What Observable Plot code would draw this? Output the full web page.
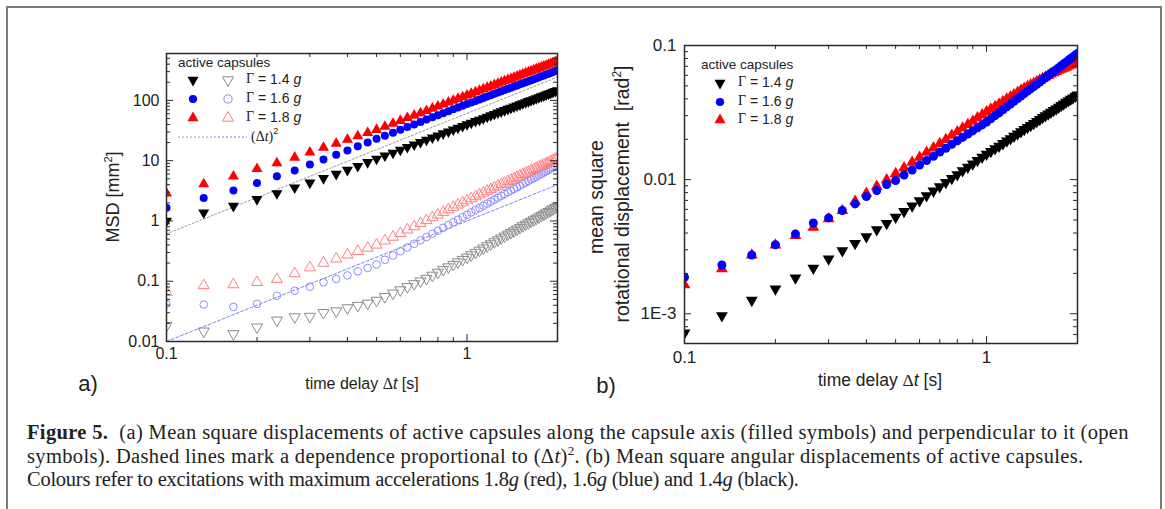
<!DOCTYPE html>
<html><head><meta charset="utf-8">
<script src="https://cdn.jsdelivr.net/npm/d3@7"></script>
<script src="https://cdn.jsdelivr.net/npm/@observablehq/plot@0.6"></script>
<style>
body{margin:0;background:#fff;}
#fig{position:relative;width:1165px;height:509px;overflow:hidden;font-family:"Liberation Sans",Arial,sans-serif;color:#222;}
#border{position:absolute;left:6px;top:6px;width:1152px;height:530px;border:2px solid #7c7c7c;}
.abs{position:absolute;white-space:nowrap;}
.rot{transform:translate(-50%,-50%) rotate(-90deg);}
.ctr{transform:translate(-50%,-50%);}
sup{line-height:0;}
#caption{position:absolute;left:27px;top:421px;font-family:"Liberation Serif","Times New Roman",serif;font-size:20.5px;letter-spacing:0.35px;line-height:23.5px;color:#222;white-space:nowrap;}
#caption i{font-style:italic;}
</style>
</head><body>
<div id="fig">
  <div id="border"></div>
  <div id="pa" class="abs" style="left:0;top:0"></div>
  <div id="pb" class="abs" style="left:580px;top:0"></div>
  <svg id="leg" class="abs" style="left:0;top:0" width="1165" height="509"></svg>
  <div class="abs rot" style="left:113px;top:197px;font-size:18px">MSD [mm<sup style="font-size:11px">2</sup>]</div>
  <div class="abs ctr" style="left:362px;top:384px;font-size:16px">time delay <span style="font-family:'Liberation Serif',serif">Δ</span><i>t</i> [s]</div>
  <div class="abs ctr" style="left:88px;top:384px;font-size:22px">a)</div>
  <div class="abs rot" style="left:596px;top:197px;font-size:19.5px">mean square</div>
  <div class="abs rot" style="left:622px;top:194px;font-size:19.5px">rotational displacement &nbsp;[rad<sup style="font-size:12px">2</sup>]</div>
  <div class="abs ctr" style="left:880px;top:380px;font-size:17.5px">time delay <span style="font-family:'Liberation Serif',serif">Δ</span><i>t</i> [s]</div>
  <div class="abs ctr" style="left:606px;top:386px;font-size:22px">b)</div>
  <div id="caption"><b>Figure 5.</b>&nbsp; (a) Mean square displacements of active capsules along the capsule axis (filled symbols) and perpendicular to it (open<br>symbols). Dashed lines mark a dependence proportional to (Δ<i>t</i>)<sup style="font-size:13px">2</sup>. (b) Mean square angular displacements of active capsules.<br><span style="letter-spacing:-0.25px">Colours refer to excitations with maximum accelerations 1.8<i>g</i> (red), 1.6<i>g</i> (blue) and 1.4<i>g</i> (black).</span></div>
</div>
<script>
// time delays (s)
const dt = [0.1,0.133,0.167,0.2,0.233,0.267,0.3,0.333,0.367,0.4,0.433,0.467,0.5,0.533,0.567,0.6,0.633,0.667,0.7,0.733,0.767,0.8,0.833,0.867,0.9,0.933,0.967,1.0,1.033,1.067,1.1,1.133,1.167,1.2,1.233,1.267,1.3,1.333,1.367,1.4,1.433,1.467,1.5,1.533,1.567,1.6,1.633,1.667,1.7,1.733,1.767,1.8,1.833,1.867,1.9,1.933,1.967,2.0];

// panel (a): MSD along axis (filled) [mm^2]
const msdAlong14 = [1.0,1.37,1.77,2.29,2.87,3.56,4.3,5.1,6.0,7.0,8.1,9.4,10.7,12.1,13.5,15.1,16.8,18.5,20.2,22.1,24.1,26.1,28.2,30.4,32.6,35.0,37.3,39.9,42.4,45.1,47.6,50.4,53.3,56.2,59.2,62.4,65.3,68.5,71.9,75.0,78.3,81.8,85.5,89.3,92.9,96.6,100.2,104.2,108.0,112.2,116.1,120.3,124.5,128.9,133.6,137.7,142.6,146.9];
const msdAlong16 = [1.65,2.4,3.2,4.25,5.5,6.9,8.6,10.5,12.6,14.8,17.3,20.0,23.0,26.0,29.2,32.6,36.3,40.0,43.9,48.0,52.4,56.7,61.4,66.2,71.1,76.2,81.5,87.1,92.5,98.2,103.8,109.6,116.1,122.2,128.5,135.5,141.9,148.9,156.0,162.9,169.8,177.4,184.9,193.2,200.9,208.4,216.8,225.4,233.3,242.7,250.6,259.4,268.5,278.0,287.7,296.5,306.9,316.2];
const msdAlong18 = [2.88,4.1,5.5,7.3,9.1,11.3,13.7,16.5,19.3,22.3,25.5,29.0,32.6,36.8,41.3,46.0,51.2,56.3,61.7,67.3,73.5,79.6,86.1,92.7,99.5,106.7,113.8,121.6,129.1,137.4,145.2,153.8,162.6,171.4,180.3,190.1,199.1,208.9,219.3,228.6,238.8,249.5,260.6,272.3,283.1,294.4,305.5,317.7,328.9,342.0,354.0,366.4,379.3,392.6,407.4,419.8,434.5,447.7];
// panel (a): MSD perpendicular (open) [mm^2]
const msdPerp14 = [0.0183,0.0148,0.0134,0.0173,0.0225,0.0255,0.026,0.030,0.032,0.036,0.0395,0.043,0.048,0.0553,0.0631,0.0716,0.0809,0.0904,0.1005,0.111,0.125,0.140,0.156,0.172,0.189,0.208,0.228,0.249,0.273,0.299,0.325,0.353,0.385,0.415,0.449,0.484,0.520,0.558,0.600,0.640,0.682,0.728,0.776,0.828,0.877,0.929,0.984,1.04,1.10,1.16,1.23,1.29,1.36,1.43,1.51,1.58,1.66,1.74];
const msdPerp16 = [0.042,0.041,0.0375,0.042,0.0575,0.0696,0.081,0.096,0.109,0.125,0.146,0.166,0.19,0.227,0.267,0.313,0.364,0.419,0.478,0.542,0.615,0.689,0.771,0.859,0.951,1.05,1.16,1.27,1.39,1.52,1.64,1.79,1.94,2.09,2.25,2.43,2.61,2.80,3.00,3.19,3.40,3.62,3.85,4.11,4.35,4.60,4.88,5.15,5.42,5.74,6.04,6.35,6.68,7.03,7.38,7.73,8.13,8.49];
const msdPerp18 = [0.066,0.085,0.088,0.096,0.108,0.134,0.168,0.201,0.236,0.274,0.314,0.356,0.40,0.469,0.542,0.625,0.714,0.809,0.912,1.02,1.14,1.26,1.40,1.54,1.69,1.85,2.01,2.18,2.35,2.54,2.72,2.92,3.13,3.33,3.56,3.79,4.03,4.27,4.53,4.78,5.04,5.32,5.61,5.92,6.21,6.52,6.84,7.18,7.50,7.87,8.22,8.57,8.95,9.33,9.75,10.1,10.6,11.0];
// (dt)^2 guide lines
const guideX = [0.1, 2];
const guideAlong = [0.61, 244];
const guidePerp = [0.01, 4];

// panel (b): mean square rotational displacement [rad^2]
const rot14 = [0.00072,0.000966,0.00126,0.00153,0.00185,0.00219,0.00256,0.00295,0.00335,0.00376,0.00424,0.00472,0.00524,0.00579,0.00637,0.00697,0.00759,0.00822,0.00885,0.00953,0.01023,0.01091,0.01164,0.01239,0.01312,0.0139,0.01469,0.01549,0.01626,0.01702,0.01778,0.01858,0.01941,0.02023,0.02109,0.02193,0.0228,0.02366,0.02455,0.02541,0.02624,0.02716,0.02812,0.02904,0.02999,0.0309,0.03184,0.03281,0.03373,0.03475,0.03573,0.03673,0.03776,0.03873,0.03981,0.04074,0.04188,0.04285];
const rot16 = [0.00187,0.00231,0.00274,0.00327,0.00394,0.00475,0.00518,0.00588,0.00659,0.00747,0.00828,0.0092,0.00985,0.01082,0.0118,0.01283,0.01389,0.01495,0.01604,0.01714,0.01833,0.01946,0.02065,0.02188,0.02307,0.02432,0.02559,0.02687,0.02838,0.03,0.03155,0.03319,0.03491,0.03656,0.03837,0.04018,0.04198,0.04385,0.04571,0.04753,0.04943,0.0514,0.05346,0.05559,0.05768,0.0597,0.0618,0.06397,0.06607,0.06839,0.07063,0.07295,0.07516,0.07762,0.07998,0.08222,0.08492,0.0873];
const rot18 = [0.00164,0.00216,0.00274,0.00325,0.00383,0.0044,0.0051,0.00588,0.0069,0.0079,0.0089,0.00996,0.0111,0.01225,0.01343,0.01466,0.01596,0.01722,0.01854,0.01991,0.02138,0.02275,0.02427,0.02576,0.02723,0.02884,0.03041,0.03206,0.03357,0.03508,0.03656,0.03819,0.03981,0.0414,0.04295,0.04467,0.04634,0.04797,0.04943,0.05082,0.05224,0.0537,0.05521,0.05675,0.05821,0.0597,0.06124,0.06266,0.06383,0.06516,0.06637,0.06761,0.06887,0.07015,0.07145,0.07261,0.07396,0.07516];

// ticks
const xMajor = [0.1, 1];
const xMajorLabels = ["0.1", "1"];
const yMajorA = [0.01, 0.1, 1, 10, 100];
const yMajorALabels = ["0.01", "0.1", "1", "10", "100"];
const yMajorB = [0.001, 0.01, 0.1];
const yMajorBLabels = ["1E-3", "0.01", "0.1"];

function minorLog(lo, hi) {
  const out = [];
  for (let e = Math.floor(Math.log10(lo)); e <= Math.ceil(Math.log10(hi)); e++) {
    for (let m = 2; m <= 9; m++) { const v = m * Math.pow(10, e); if (v > lo * 1.0001 && v < hi * 0.9999) out.push(+v.toPrecision(3)); }
  }
  return out;
}

const pts = (ys) => dt.map((t, i) => ({t, v: ys[i]}));
const line = (ys) => guideX.map((t, i) => ({t, v: ys[i]}));
const ink = "#2a2a2a";

function tickMarks(xDom, yDom, xMaj, yMaj, W, H) {
  const xMin = minorLog(xDom[0], xDom[1]), yMin = minorLog(yDom[0], yDom[1]);
  const o = {stroke: ink, strokeWidth: 1};
  return [
    Plot.tickX(xMaj, {x: d => d, insetTop: H - 7, ...o}),
    Plot.tickX(xMaj, {x: d => d, insetBottom: H - 7, ...o}),
    Plot.tickX(xMin, {x: d => d, insetTop: H - 4, ...o}),
    Plot.tickX(xMin, {x: d => d, insetBottom: H - 4, ...o}),
    Plot.tickY(yMaj, {y: d => d, insetRight: W - 7, ...o}),
    Plot.tickY(yMaj, {y: d => d, insetLeft: W - 7, ...o}),
    Plot.tickY(yMin, {y: d => d, insetRight: W - 4, ...o}),
    Plot.tickY(yMin, {y: d => d, insetLeft: W - 4, ...o})
  ];
}

const R = 4.1;
const style = {fontFamily: "'Liberation Sans', Arial, sans-serif", fontSize: "16px", color: "#222", background: "transparent", overflow: "visible"};

const plotA = Plot.plot({
  width: 580, height: 400,
  marginLeft: 166, marginRight: 23, marginTop: 53, marginBottom: 59,
  x: {type: "log", domain: [0.1, 2], axis: null},
  y: {type: "log", domain: [0.01, 600], axis: null},
  style,
  marks: [
    Plot.line(line(guideAlong), {x: "t", y: "v", stroke: "#9a9a9a", strokeWidth: 1, strokeDasharray: "2,2"}),
    Plot.line(line(guidePerp), {x: "t", y: "v", stroke: "#7f7fff", strokeWidth: 1, strokeDasharray: "3,2"}),
    Plot.dot(pts(msdPerp14), {x: "t", y: "v", symbol: "triangle", rotate: 180, r: R, fill: "none", stroke: "#8a8a8a", strokeWidth: 1, clip: true}),
    Plot.dot(pts(msdPerp16), {x: "t", y: "v", symbol: "circle", r: 3.8, fill: "none", stroke: "#8c8cff", strokeWidth: 1, clip: true}),
    Plot.dot(pts(msdPerp18), {x: "t", y: "v", symbol: "triangle", r: R, fill: "none", stroke: "#ff7f7f", strokeWidth: 1, clip: true}),
    Plot.dot(pts(msdAlong14), {x: "t", y: "v", symbol: "triangle", rotate: 180, r: R, fill: "black", clip: true}),
    Plot.dot(pts(msdAlong16), {x: "t", y: "v", symbol: "circle", r: 4, fill: "#0000ff", clip: true}),
    Plot.dot(pts(msdAlong18), {x: "t", y: "v", symbol: "triangle", r: R, fill: "#ff0000", clip: true}),
    ...tickMarks([0.1, 2], [0.01, 600], xMajor, yMajorA, 391, 288),
    Plot.frame({stroke: ink, strokeWidth: 1.5}),
    Plot.axisX(xMajor, {tickSize: 0, tickPadding: 6, tickFormat: d => xMajorLabels[xMajor.indexOf(d)], fontSize: 16, label: null}),
    Plot.axisY(yMajorA, {tickSize: 0, tickPadding: 7, tickFormat: d => yMajorALabels[yMajorA.indexOf(d)], fontSize: 16, label: null})
  ]
});
document.getElementById("pa").appendChild(plotA);

const plotB = Plot.plot({
  width: 580, height: 400,
  marginLeft: 104, marginRight: 83, marginTop: 45, marginBottom: 57,
  x: {type: "log", domain: [0.1, 2], axis: null},
  y: {type: "log", domain: [0.0006, 0.1], axis: null},
  style,
  marks: [
    Plot.dot(pts(rot14), {x: "t", y: "v", symbol: "triangle", rotate: 180, r: 4.4, fill: "black", clip: true}),
    Plot.dot(pts(rot18), {x: "t", y: "v", symbol: "triangle", r: 4.4, fill: "#ff0000", clip: true}),
    Plot.dot(pts(rot16), {x: "t", y: "v", symbol: "circle", r: 4.5, fill: "#0000ff", clip: true}),
    ...tickMarks([0.1, 2], [0.0006, 0.1], xMajor, yMajorB, 393, 298),
    Plot.frame({stroke: ink, strokeWidth: 1.5}),
    Plot.axisX(xMajor, {tickSize: 0, tickPadding: 7, tickFormat: d => xMajorLabels[xMajor.indexOf(d)], fontSize: 17, label: null}),
    Plot.axisY(yMajorB, {tickSize: 0, tickPadding: 8, tickFormat: d => yMajorBLabels[yMajorB.indexOf(d)], fontSize: 17, label: null})
  ]
});
document.getElementById("pb").appendChild(plotB);

// legends
const leg = d3.select("#leg");
const sym = (type, size) => d3.symbol().type(type).size(size)();
function addSym(x, y, type, fill, stroke, rot) {
  leg.append("path").attr("d", sym(type, 53)).attr("transform", `translate(${x},${y}) rotate(${rot || 0})`)
    .attr("fill", fill).attr("stroke", stroke || "none").attr("stroke-width", 1);
}
function addText(x, y, parts, size) {
  const t = leg.append("text").attr("x", x).attr("y", y).attr("font-size", size).attr("dominant-baseline", "middle")
    .attr("font-family", "'Liberation Sans', Arial, sans-serif").attr("fill", "#222");
  parts.forEach(p => { const s = t.append("tspan").text(p.t); if (p.f) s.attr("font-family", p.f); if (p.i) s.attr("font-style", "italic"); if (p.dy) s.attr("dy", p.dy).attr("font-size", p.fs); });
}
const legendLabels = ["1.4", "1.6", "1.8"];
const gam = (v) => [{t: "Γ", f: "'Liberation Serif', serif"}, {t: " = " + v + " "}, {t: "g", i: true}];
// panel a
addText(178, 63, [{t: "active capsules"}], 13.5);
const rowsA = [80, 99, 118];
addSym(193, rowsA[0], d3.symbolTriangle, "black", null, 180);
addSym(228, rowsA[0], d3.symbolTriangle, "none", "#8a8a8a", 180);
addSym(193, rowsA[1], d3.symbolCircle, "#0000ff");
addSym(228, rowsA[1], d3.symbolCircle, "none", "#8c8cff");
addSym(193, rowsA[2], d3.symbolTriangle, "#ff0000");
addSym(228, rowsA[2], d3.symbolTriangle, "none", "#ff7f7f");
rowsA.forEach((y, i) => addText(246, y, gam(legendLabels[i]), 14));
leg.append("line").attr("x1", 178).attr("x2", 213).attr("y1", 137).attr("y2", 137).attr("stroke", "#9a9a9a").attr("stroke-dasharray", "2,2");
leg.append("line").attr("x1", 214).attr("x2", 247).attr("y1", 137).attr("y2", 137).attr("stroke", "#7f7fff").attr("stroke-dasharray", "2,2");
addText(251, 138, [{t: "(Δ", f: "'Liberation Serif', serif"}, {t: "t", i: true, f: "'Liberation Serif', serif"}, {t: ")", f: "'Liberation Serif', serif"}, {t: "2", dy: -6, fs: 9}], 14);
// panel b
addText(701, 65, [{t: "active capsules"}], 13.5);
const rowsB = [83, 102, 120];
addSym(720, rowsB[0], d3.symbolTriangle, "black", null, 180);
addSym(720, rowsB[1], d3.symbolCircle, "#0000ff");
addSym(720, rowsB[2], d3.symbolTriangle, "#ff0000");
rowsB.forEach((y, i) => addText(738, y, gam(legendLabels[i]), 14));
</script>
</body></html>
